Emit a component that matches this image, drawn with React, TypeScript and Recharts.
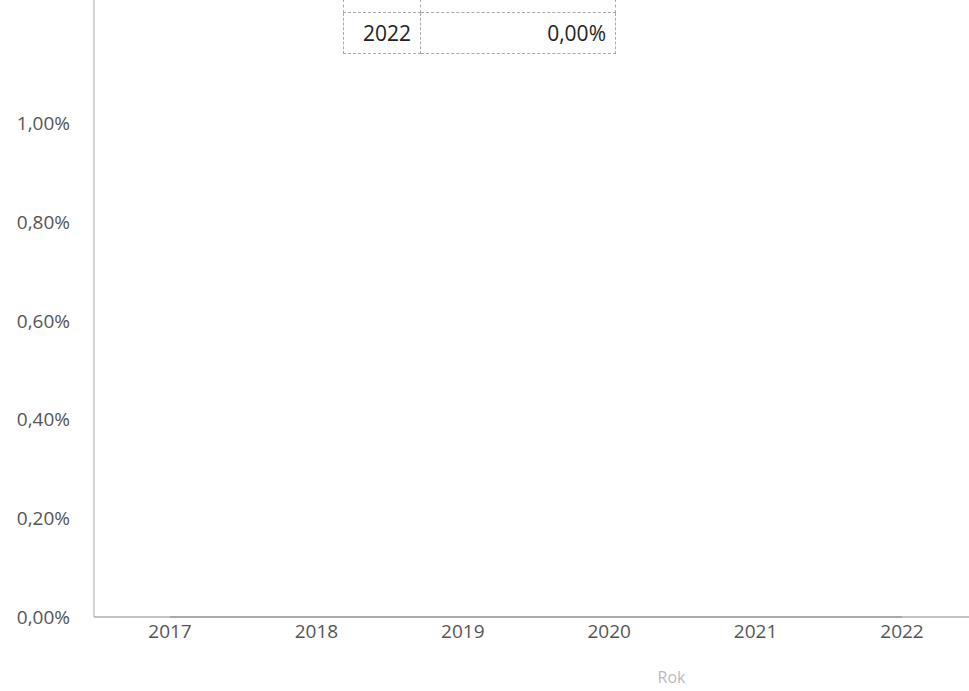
import { LineChart, Line, XAxis, YAxis, ResponsiveContainer } from 'recharts';

const years = ['2017', '2018', '2019', '2020', '2021', '2022'];
const rates = [0, 0, 0, 0, 0, 0];
const yTicks = [0, 0.2, 0.4, 0.6, 0.8, 1.0];
// only the last row of the data table is visible at the top of the page
const tableYear = years[years.length - 1];
const tableRate = rates[rates.length - 1];

const data = years.map((year, i) => ({ year, rate: rates[i] }));

const fmt = (v: number) => v.toFixed(2).replace('.', ',') + '%';

const cell: React.CSSProperties = {
  border: '1px dashed #aaa',
  padding: '0 9px',
  fontSize: 21,
  color: '#222',
  textAlign: 'right',
  boxSizing: 'border-box',
};

export default function App() {
  return (
    <div
      style={{
        position: 'fixed',
        top: 0,
        left: 0,
        width: 969,
        height: 691,
        overflow: 'hidden',
        background: '#fff',
        fontFamily: '"Open Sans", sans-serif',
      }}
    >
      <div style={{ width: 969, height: 691 }}>
        <ResponsiveContainer width="100%" height="100%">
          <LineChart data={data} margin={{ top: 0, right: 0, bottom: 0, left: 0 }}>
            <XAxis
              dataKey="year"
              height={74}
              padding={{ left: 76, right: 67 }}
              tickLine={false}
              axisLine={{ stroke: '#888' }}
              tickMargin={2}
              tick={{ fill: '#555', fontSize: 19 }}
              label={{ value: 'Rok', position: 'insideBottom', offset: 8, dx: 140, fill: '#bbb', fontSize: 16 }}
            />
            <YAxis
              width={94}
              domain={[0, 1.25]}
              ticks={yTicks}
              tickLine={false}
              axisLine={{ stroke: '#aaa' }}
              tickMargin={18}
              tickFormatter={fmt}
              tick={{ fill: '#555', fontSize: 19 }}
            />
            <Line
              type="linear"
              dataKey="rate"
              stroke="#999"
              strokeWidth={1}
              dot={false}
              isAnimationActive={false}
            />
          </LineChart>
        </ResponsiveContainer>
      </div>
      <table
        style={{
          position: 'absolute',
          left: 343,
          top: -1,
          borderCollapse: 'collapse',
          tableLayout: 'fixed',
          background: '#fff',
        }}
      >
        <colgroup>
          <col style={{ width: 77 }} />
          <col style={{ width: 195 }} />
        </colgroup>
        <tbody>
          <tr>
            <td style={{ ...cell, height: 13 }} />
            <td style={{ ...cell, height: 13 }} />
          </tr>
          <tr>
            <td style={{ ...cell, height: 41 }}>{tableYear}</td>
            <td style={{ ...cell, height: 41 }}>{fmt(tableRate)}</td>
          </tr>
        </tbody>
      </table>
    </div>
  );
}
